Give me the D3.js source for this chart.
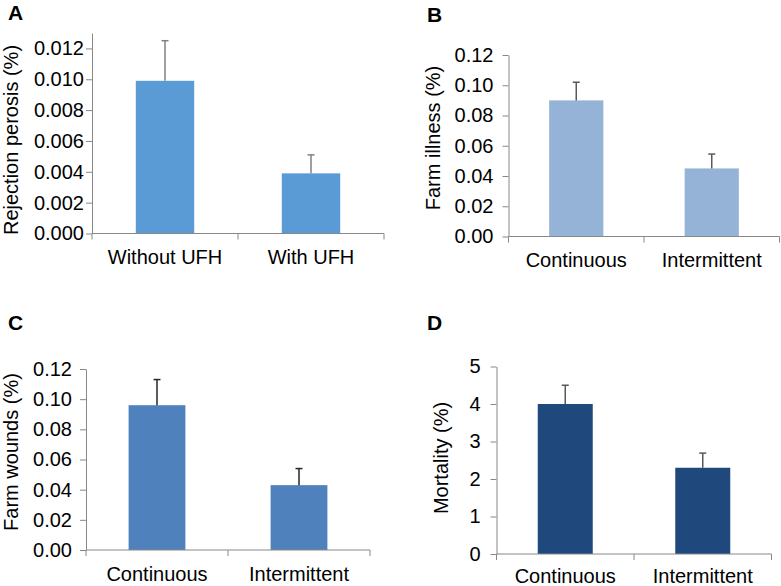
<!DOCTYPE html>
<html>
<head>
<meta charset="utf-8">
<script src="https://cdn.jsdelivr.net/npm/d3@7"></script>
<style>
  body { margin: 0; background: #fff; }
  text { font-family: "Liberation Sans", Arial, sans-serif; fill: #000; }
</style>
</head>
<body>
<div id="chart"></div>
<script>
// data
const categoriesA = ["Without UFH", "With UFH"];
const valuesA = [0.0099, 0.0039];
const errorsA = [0.0026, 0.0012];
const ticksA = [0, 0.002, 0.004, 0.006, 0.008, 0.010, 0.012];

const categoriesB = ["Continuous", "Intermittent"];
const valuesB = [0.090, 0.045];
const errorsB = [0.012, 0.0095];
const ticksB = [0, 0.02, 0.04, 0.06, 0.08, 0.10, 0.12];

const categoriesC = ["Continuous", "Intermittent"];
const valuesC = [0.096, 0.043];
const errorsC = [0.017, 0.011];
const ticksC = [0, 0.02, 0.04, 0.06, 0.08, 0.10, 0.12];

const categoriesD = ["Continuous", "Intermittent"];
const valuesD = [4.0, 2.3];
const errorsD = [0.5, 0.39];
const ticksD = [0, 1, 2, 3, 4, 5];

const width = 781, height = 586;

const svg = d3.select("#chart").append("svg")
    .attr("width", width)
    .attr("height", height);

// one panel = one little bar chart with upper error bars
function drawPanel(p) {
    const g = svg.append("g");

    const x = d3.scaleBand().domain(p.categories).range([p.left, p.right]);
    const y = d3.scaleLinear().domain([0, p.yMax]).range([p.bottom, p.top]);
    const barW = x.bandwidth() * 0.4;

    // panel letter
    g.append("text")
        .attr("x", p.letterX)
        .attr("y", p.letterY)
        .style("font-size", "21px")
        .style("font-weight", "bold")
        .text(p.letter);

    // bars
    g.selectAll(".bar")
        .data(p.values)
        .join("rect")
        .attr("x", (d, i) => x(p.categories[i]) + (x.bandwidth() - barW) / 2)
        .attr("y", d => y(d))
        .attr("width", barW)
        .attr("height", d => y(0) - y(d))
        .attr("fill", p.color);

    // error bars (upper only)
    const cx = i => x(p.categories[i]) + x.bandwidth() / 2;
    g.selectAll(".err")
        .data(p.values)
        .join("line")
        .attr("x1", (d, i) => cx(i))
        .attr("x2", (d, i) => cx(i))
        .attr("y1", d => y(d))
        .attr("y2", (d, i) => y(d + p.errors[i]))
        .attr("stroke", p.errColor)
        .attr("stroke-width", 1.5);
    g.selectAll(".cap")
        .data(p.values)
        .join("line")
        .attr("x1", (d, i) => cx(i) - 3.5)
        .attr("x2", (d, i) => cx(i) + 3.5)
        .attr("y1", (d, i) => y(d + p.errors[i]))
        .attr("y2", (d, i) => y(d + p.errors[i]))
        .attr("stroke", p.errColor)
        .attr("stroke-width", 1.5);

    // y axis
    const yAxis = g.append("g")
        .attr("transform", `translate(${p.left},0)`)
        .call(d3.axisLeft(y).tickValues(p.ticks).tickFormat(p.fmt).tickSize(6).tickPadding(p.tickPad).tickSizeOuter(0));
    yAxis.select(".domain").attr("stroke", "#888");
    yAxis.selectAll(".tick line").attr("stroke", "#888");
    yAxis.selectAll(".tick text")
        .style("font-size", "20px")
        .style("font-family", "Liberation Sans, Arial, sans-serif")
        .attr("fill", "#000");

    // x axis: ticks at category boundaries only
    const xAxis = g.append("g").attr("transform", `translate(0,${p.bottom})`);
    xAxis.append("line")
        .attr("x1", p.left).attr("x2", p.right)
        .attr("stroke", "#888");
    const bounds = [p.left].concat(p.categories.map(c => x(c) + x.bandwidth()));
    xAxis.selectAll(".xt")
        .data(bounds)
        .join("line")
        .attr("x1", d => d).attr("x2", d => d)
        .attr("y1", 0).attr("y2", 6)
        .attr("stroke", "#888");
    xAxis.selectAll(".xl")
        .data(p.categories)
        .join("text")
        .attr("x", d => x(d) + x.bandwidth() / 2)
        .attr("y", p.labelGap)
        .attr("text-anchor", "middle")
        .style("font-size", "20px")
        .text(d => d);

    // y axis title
    g.append("text")
        .attr("transform", `translate(${p.titleX},${p.titleY}) rotate(-90)`)
        .attr("text-anchor", "middle")
        .style("font-size", "20px")
        .text(p.title);
}

drawPanel({
    letter: "A", letterX: 8, letterY: 20,
    categories: categoriesA, values: valuesA, errors: errorsA, ticks: ticksA,
    yMax: 0.013, fmt: d3.format(".3f"),
    left: 92, right: 384, top: 33, bottom: 233.5, tickPad: 2,
    color: "#5b9bd5", errColor: "#808080",
    labelGap: 30, title: "Rejection perosis (%)", titleX: 18, titleY: 140
});

drawPanel({
    letter: "B", letterX: 427, letterY: 22,
    categories: categoriesB, values: valuesB, errors: errorsB, ticks: ticksB,
    yMax: 0.12, fmt: d3.format(".2f"),
    left: 508.5, right: 779.5, top: 55, bottom: 236.5, tickPad: 9,
    color: "#95b3d7", errColor: "#595959",
    labelGap: 30, title: "Farm illness (%)", titleX: 440, titleY: 138
});

drawPanel({
    letter: "C", letterX: 8, letterY: 330,
    categories: categoriesC, values: valuesC, errors: errorsC, ticks: ticksC,
    yMax: 0.12, fmt: d3.format(".2f"),
    left: 86, right: 370, top: 369, bottom: 550, tickPad: 8,
    color: "#4f81bd", errColor: "#262626",
    labelGap: 31, title: "Farm wounds (%)", titleX: 18, titleY: 452
});

drawPanel({
    letter: "D", letterX: 427, letterY: 330,
    categories: categoriesD, values: valuesD, errors: errorsD, ticks: ticksD,
    yMax: 5, fmt: d3.format("d"),
    left: 496.5, right: 771.5, top: 366.5, bottom: 554, tickPad: 10,
    color: "#1f497d", errColor: "#595959",
    labelGap: 29, title: "Mortality (%)", titleX: 448, titleY: 458
});
</script>
</body>
</html>
